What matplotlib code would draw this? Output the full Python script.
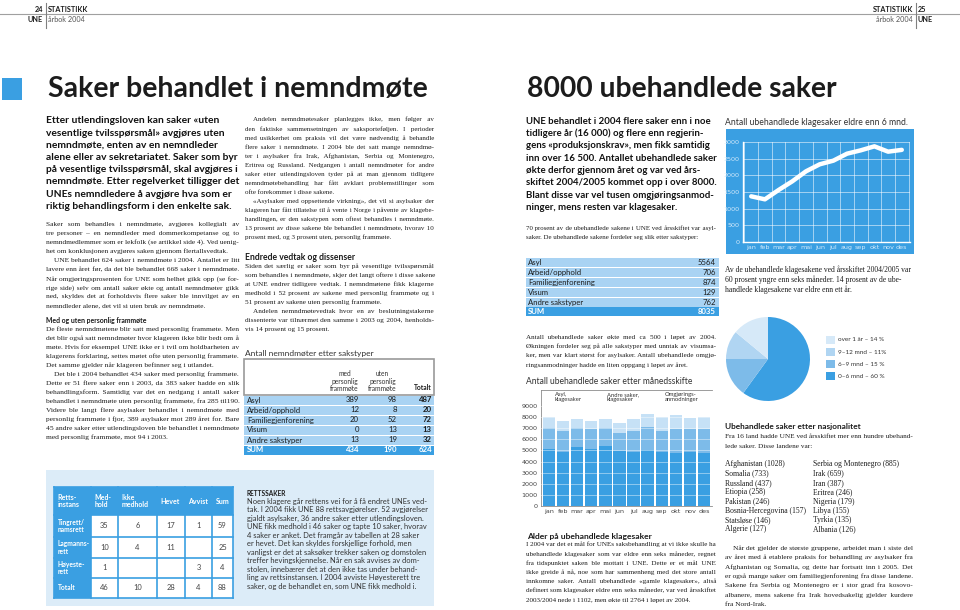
import numpy as np
import matplotlib
matplotlib.use("Agg")
import matplotlib.pyplot as plt
from matplotlib.font_manager import FontProperties
from matplotlib.patches import Rectangle
from matplotlib.lines import Line2D

# ---- data ----
maneder = ["jan", "feb", "mar", "apr", "mai", "jun", "jul", "aug", "sep", "okt", "nov", "des"]
asyl_klage = [5100, 4900, 5300, 5100, 5400, 4950, 4850, 5050, 4850, 4750, 4850, 4750]
andre_klage = [1950, 1900, 1750, 1800, 1650, 1650, 1950, 2100, 1950, 2200, 2050, 2150]
omgjoring = [950, 900, 750, 750, 750, 900, 1000, 1150, 1200, 1250, 1050, 1100]
bar_legend = ["Asyl,\nklagesaker", "Andre saker,\nklagesaker", "Omgjørings-\nanmodninger"]

eldre_6mnd = [1370, 1280, 1560, 1820, 2120, 2330, 2440, 2650, 2750, 2870, 2710, 2764]

alder_labels = ["0–6 mnd – 60 %", "6–9 mnd – 15 %", "9–12 mnd – 11%", "over 1 år – 14 %"]
alder_andel = [60, 15, 11, 14]

sakstyper = ["Asyl", "Arbeid/opphold", "Familiegjenforening", "Visum", "Andre sakstyper"]
med_frammote = [389, 12, 20, 0, 13]
uten_frammote = [98, 8, 52, 13, 19]
ubehandlet = [5564, 706, 874, 129, 762]

retts_rader = ["Tingrett/\nnamsrett", "Lagmanns-\nrett", "Høyeste-\nrett"]
retts_kolonner = ["Retts-\ninstans", "Med-\nhold", "Ikke\nmedhold", "Hevet", "Avvist", "Sum"]
medhold = [35, 10, 1]
ikke_medhold = [6, 4, 0]
hevet = [17, 11, 0]
avvist = [1, 0, 3]

land_venstre = ["Afghanistan (1028)", "Somalia (733)", "Russland (437)", "Etiopia (258)",
                "Pakistan (246)", "Bosnia-Hercegovina (157)", "Statsløse (146)", "Algerie (127)"]
land_hoyre = ["Serbia og Montenegro (885)", "Irak (659)", "Iran (387)", "Eritrea (246)",
              "Nigeria (179)", "Libya (155)", "Tyrkia (135)", "Albania (126)"]

SANS = ["Lato", "DejaVu Sans"]
SERIF = ["Liberation Serif", "DejaVu Serif"]
BLUE = "#3a9fe2"
MID = "#7dbbe9"
LIGHT = "#c6e1f6"
ROW = "#a9d3f3"
BOX = "#dcecf8"
INK = "#1c1c1c"
GREY = "#444444"
HAIR = "\u200a"

W, H = 960, 610
fig = plt.figure(figsize=(W / 100, H / 100), dpi=100)
R = fig.canvas.get_renderer()


def fx(x):
    return x / W


def fy(y):
    return 1 - y / H


def tw(s, size, family=SERIF, weight="normal"):
    fp = FontProperties(family=family, size=size, weight=weight)
    return R.get_text_width_height_descent(s, fp, ismath=False)[0]


def txt(x, y, s, size, family=SANS, weight="normal", color=INK, ha="left", va="center", **kw):
    return fig.text(fx(x), fy(y), s, fontsize=size, family=family, weight=weight,
                    color=color, ha=ha, va=va, **kw)


def fit(x, y, s, w, family=SANS, weight="bold", color=INK):
    size = 10 * w / tw(s, 10, family, weight)
    txt(x, y, s, size, family, weight, color, va="baseline")


def rect(x0, y0, x1, y1, color, ec="none", lw=0):
    fig.add_artist(Rectangle((fx(x0), fy(y1)), (x1 - x0) / W, (y1 - y0) / H,
                             transform=fig.transFigure, facecolor=color,
                             edgecolor=ec, linewidth=lw, zorder=-1))


def line(x0, y0, x1, y1, color="#9a9a9a", lw=0.8):
    fig.add_artist(Line2D([fx(x0), fx(x1)], [fy(y0), fy(y1)],
                          transform=fig.transFigure, color=color, lw=lw))


def stretch(ln, size, family, weight, target):
    # pad the word gaps with hair spaces so the line fills the column
    words = ln.split()
    gaps = len(words) - 1
    fill, n_fill = HAIR, 20
    hw = (tw("x" + fill * n_fill + "x", size, family, weight) - tw("xx", size, family, weight)) / n_fill
    if hw < 0.2:
        fill = " "
        hw = (tw("x" + fill * n_fill + "x", size, family, weight) - tw("xx", size, family, weight)) / n_fill
    n = max(0, int(round((target - tw(" ".join(words), size, family, weight)) / hw)))
    out = words[0]
    for i, wd in enumerate(words[1:]):
        k = n * (i + 1) // gaps - n * i // gaps
        out += " " + fill * k + wd
    return out


def block(paras, x, y, dy, w, size, family=SERIF, weight="normal", color=INK,
          justify=True, indent=8, first_indent=False):
    rows = []
    for k, p in enumerate(paras):
        lines = p.split("\n")
        for j, ln in enumerate(lines):
            ind = indent if j == 0 and (k > 0 or first_indent) else 0
            rows.append((ln, ind, justify and j < len(lines) - 1))
    nat = max(tw(ln, size, family, weight) + ind for ln, ind, _ in rows)
    if nat > w:
        size = size * w / nat
    base = 0.28 * size * 100 / 72
    for i, (ln, ind, jus) in enumerate(rows):
        yb = y + i * dy + base
        if jus and len(ln.split()) > 1:
            ln = stretch(ln, size, family, weight, w - ind)
        txt(x + ind, yb, ln, size, family, weight, color, va="baseline")
    return size


# ---- page header ----
line(0, 14, 960, 14, "#a0a0a0", 0.8)
line(45.5, 3, 45.5, 28, "#808080", 0.8)
line(915.5, 3, 915.5, 28, "#808080", 0.8)
txt(43, 9, "24", 5.2, weight="bold", ha="right")
txt(48, 9, "STATISTIKK", 5.2, weight="bold")
txt(43, 20, "UNE", 5.2, weight="bold", ha="right")
txt(48, 20, "årbok 2004", 5.2, color="#555555")
txt(913, 9, "STATISTIKK", 5.2, weight="bold", ha="right")
txt(918, 9, "25", 5.2, weight="bold")
txt(913, 20, "årbok 2004", 5.2, color="#555555", ha="right")
txt(918, 20, "UNE", 5.2, weight="bold")

rect(2, 78, 22, 100, BLUE)
fit(48, 97, "Saker behandlet i nemndmøte", 382)
fit(527, 97, "8000 ubehandlede saker", 311)

# ---- left column ----
block(["Etter utlendingsloven kan saker «uten\n"
       "vesentlige tvilsspørsmål» avgjøres uten\n"
       "nemndmøte, enten av en nemndleder\n"
       "alene eller av sekretariatet. Saker som byr\n"
       "på vesentlige tvilsspørsmål, skal avgjøres i\n"
       "nemndmøte. Etter regelverket tilligger det\n"
       "UNEs nemndledere å avgjøre hva som er\n"
       "riktig behandlingsform i den enkelte sak."],
      46, 120.5, 12.2, 193, 9, family=SANS, weight="bold", color="#111111", justify=False)

block(["Saker som behandles i nemndmøte, avgjøres kollegialt av\n"
       "tre personer – en nemndleder med dommerkompetanse og to\n"
       "nemndmedlemmer som er lekfolk (se artikkel side 4). Ved uenig-\n"
       "het om konklusjonen avgjøres saken gjennom flertallsvedtak.",
       "UNE behandlet 624 saker i nemndmøte i 2004. Antallet er litt\n"
       "lavere enn året før, da det ble behandlet 668 saker i nemndmøte.\n"
       "Når omgjøringsprosenten for UNE som helhet gikk opp (se for-\n"
       "rige side) selv om antall saker økte og antall nemndmøter gikk\n"
       "ned, skyldes det at forholdsvis flere saker ble innvilget av en\n"
       "nemndleder alene, det vil si uten bruk av nemndmøte."],
      46, 223.5, 9.1, 193, 6.2)

fit(46, 323.5, "Med og uten personlig frammøte", 100)
block(["De fleste nemndmøtene blir satt med personlig frammøte. Men\n"
       "det blir også satt nemndmøter hvor klageren ikke blir bedt om å\n"
       "møte. Hvis for eksempel UNE ikke er i tvil om holdbarheten av\n"
       "klagerens forklaring, settes møtet ofte uten personlig frammøte.\n"
       "Det samme gjelder når klageren befinner seg i utlandet.",
       "Det ble i 2004 behandlet 434 saker med personlig frammøte.\n"
       "Dette er 51 flere saker enn i 2003, da 383 saker hadde en slik\n"
       "behandlingsform. Samtidig var det en nedgang i antall saker\n"
       "behandlet i nemndmøte uten personlig frammøte, fra 285 til190.\n"
       "Videre ble langt flere asylsaker behandlet i nemndmøte med\n"
       "personlig frammøte i fjor, 389 asylsaker mot 289 året for. Bare\n"
       "45 andre saker etter utlendingsloven ble behandlet i nemndmøte\n"
       "med personlig frammøte, mot 94 i 2003."],
      46, 328.5, 9.05, 193, 6.2)

# ---- middle column ----
block(["Andelen nemndmøtesaker planlegges ikke, men følger av\n"
       "den faktiske sammensetningen av saksporteføljen. I perioder\n"
       "med usikkerhet om praksis vil det være nødvendig å behandle\n"
       "flere saker i nemndmøte. I 2004 ble det satt mange nemndmø-\n"
       "ter i asylsaker fra Irak, Afghanistan, Serbia og Montenegro,\n"
       "Eritrea og Russland. Nedgangen i antall nemndmøter for andre\n"
       "saker etter utlendingsloven tyder på at man gjennom tidligere\n"
       "nemndmøtebehandling har fått avklart problemstillinger som\n"
       "ofte forekommer i disse sakene.",
       "«Asylsaker med oppsettende virkning», det vil si asylsaker der\n"
       "klageren har fått tillatelse til å vente i Norge i påvente av klagebe-\n"
       "handlingen, er den sakstypen som oftest behandles i nemndmøte.\n"
       "13 prosent av disse sakene ble behandlet i nemndmøte, hvorav 10\n"
       "prosent med, og 3 prosent uten, personlig frammøte."],
      245, 119.5, 9.05, 189, 6.2, first_indent=True)

fit(245, 260, "Endrede vedtak og dissenser", 111)
block(["Siden det særlig er saker som byr på vesentlige tvilsspørsmål\n"
       "som behandles i nemndmøte, skjer det langt oftere i disse sakene\n"
       "at UNE endrer tidligere vedtak. I nemndmøtene fikk klagerne\n"
       "medhold i 52 prosent av sakene med personlig frammøte og i\n"
       "51 prosent av sakene uten personlig frammøte.",
       "Andelen nemndmøtevedtak hvor en av beslutningstakerne\n"
       "dissenterte var tilnærmet den samme i 2003 og 2004, henholds-\n"
       "vis 14 prosent og 15 prosent."],
      245, 266, 9.05, 189, 6.2)

# table: nemndmøter etter sakstyper
fit(245, 356, "Antall nemndmøter etter sakstyper", 128, weight="normal", color="#333333")
rect(244, 359, 434, 395, "white", ec="#9a9a9a", lw=1.2)
txt(359, 392, "med\npersonlig\nframmøte", 4.8, color="#333333", ha="right", va="bottom",
    multialignment="center", linespacing=1.05)
txt(397, 392, "uten\npersonlig\nframmøte", 4.8, color="#333333", ha="right", va="bottom",
    multialignment="center", linespacing=1.05)
txt(432, 391.5, "Totalt", 4.8, weight="bold", ha="right", va="bottom")
navn = sakstyper + ["SUM"]
med = med_frammote + [sum(med_frammote)]
uten = uten_frammote + [sum(uten_frammote)]
for i, (n, m, u) in enumerate(zip(navn, med, uten)):
    y0 = 395 + i * 10
    siste = i == len(navn) - 1
    rect(244, y0 + 0.5, 434, y0 + 9.5, BLUE if siste else ROW)
    c = "white" if siste else INK
    wt = "bold" if siste else "normal"
    txt(247, y0 + 5, n, 5.6, weight=wt, color=c)
    txt(359, y0 + 5, str(m), 5.6, weight=wt, color=c, ha="right")
    txt(397, y0 + 5, str(u), 5.6, weight=wt, color=c, ha="right")
    txt(432, y0 + 5, str(m + u), 5.6, weight="bold", color=c, ha="right")

# ---- rettssaker box ----
rect(46, 470, 434, 606, BOX)
kol = [54, 91, 118, 157, 185, 212, 233]
rad = [487, 515, 537, 558, 578, 598]
rect(kol[0], rad[0], kol[-1], rad[-1], "white")
rect(kol[0], rad[0], kol[-1], rad[1], BLUE)
rect(kol[0], rad[0], kol[1], rad[-1], BLUE)
for xv in kol:
    line(xv, rad[0], xv, rad[-1], BLUE, 1.2)
for yv in rad:
    line(kol[0], yv, kol[-1], yv, BLUE, 1.2)
for j, k in enumerate(retts_kolonner):
    txt(kol[j] + 3.5, (rad[0] + rad[1]) / 2, k, 5.0, weight="bold", color="white", linespacing=1.1)
radnavn = retts_rader + ["Totalt"]
celler = [medhold, ikke_medhold, hevet, avvist]
tabell = [[c[i] for c in celler] for i in range(len(retts_rader))]
tabell = [r + [sum(r)] for r in tabell]
tabell.append([sum(col) for col in zip(*tabell)])
for i, (n, r) in enumerate(zip(radnavn, tabell)):
    yc = (rad[i + 1] + rad[i + 2]) / 2
    txt(kol[0] + 3.5, yc, n, 4.8, weight="bold", color="white", linespacing=1.1)
    for j, v in enumerate(r):
        if v:
            txt((kol[j + 1] + kol[j + 2]) / 2, yc, str(v), 5.4, color="#444444", ha="center")

fit(247, 496, "RETTSSAKER", 40)
block(["Noen klagere går rettens vei for å få endret UNEs ved-\n"
       "tak. I 2004 fikk UNE 88 rettsavgjørelser. 52 avgjørelser\n"
       "gjaldt asylsaker, 36 andre saker etter utlendingsloven.\n"
       "UNE fikk medhold i 46 saker og tapte 10 saker, hvorav\n"
       "4 saker er anket. Det framgår av tabellen at 28 saker\n"
       "er hevet. Det kan skyldes forskjellige forhold, men\n"
       "vanligst er det at saksøker trekker saken og domstolen\n"
       "treffer hevingskjennelse. Når en sak avvises av dom-\n"
       "stolen, innebærer det at den ikke tas under behand-\n"
       "ling av rettsinstansen. I 2004 avviste Høyesterett tre\n"
       "saker, og de behandlet en, som UNE fikk medhold i."],
      247, 501.5, 8.5, 181, 6.0, family=SANS, color="#333333", justify=False)

# ---- right page, left column ----
block(["UNE behandlet i 2004 flere saker enn i noe\n"
       "tidligere år (16 000) og flere enn regjerin-\n"
       "gens «produksjonskrav», men fikk samtidig\n"
       "inn over 16 500. Antallet ubehandlede saker\n"
       "økte derfor gjennom året og var ved års-\n"
       "skiftet 2004/2005 kommet opp i over 8000.\n"
       "Blant disse var vel tusen omgjøringsanmod-\n"
       "ninger, mens resten var klagesaker."],
      526, 121, 12.3, 190, 9, family=SANS, weight="bold", color="#111111", justify=False)

block(["70 prosent av de ubehandlede sakene i UNE ved årsskiftet var asyl-\n"
       "saker. De ubehandlede sakene fordeler seg slik etter sakstyper:"],
      526, 228, 9.2, 190, 6.0)

for i, (n, v) in enumerate(zip(navn, ubehandlet + [sum(ubehandlet)])):
    y0 = 258 + i * 9.8
    siste = i == len(navn) - 1
    rect(526, y0 + 0.4, 719, y0 + 9.4, BLUE if siste else ROW)
    c = "white" if siste else INK
    wt = "bold" if siste else "normal"
    txt(528, y0 + 4.9, n, 5.6, weight=wt, color=c)
    txt(716, y0 + 4.9, str(v), 5.6, weight=wt, color=c, ha="right")

block(["Antall ubehandlede saker økte med ca 500 i løpet av 2004.\n"
       "Økningen fordeler seg på alle sakstyper med unntak av visumsa-\n"
       "ker, men var klart størst for asylsaker. Antall ubehandlede omgjø-\n"
       "ringsanmodninger hadde en liten oppgang i løpet av året."],
      526, 337, 9.2, 190, 6.2)

fit(526, 384, "Antall ubehandlede saker etter månedsskifte", 167, weight="normal", color="#333333")

ax = fig.add_axes([fx(541), fy(506), 171 / W, 116 / H])
xs = np.arange(len(maneder))
a = np.array(asyl_klage)
b = np.array(andre_klage)
c = np.array(omgjoring)
ax.bar(xs, a, 0.88, color=BLUE, lw=0)
ax.bar(xs, b, 0.88, bottom=a, color=MID, lw=0)
ax.bar(xs, c, 0.88, bottom=a + b, color=LIGHT, lw=0)
ax.set_xlim(-0.55, 11.55)
ax.set_ylim(0, 10450)
ax.set_yticks(np.arange(0, 9001, 1000))
ax.set_xticks(xs, maneder)
ax.tick_params(length=0, labelsize=4.6, colors=GREY, pad=2.5)
ax.grid(axis="y", color="white", lw=0.5, alpha=0.6)
ax.set_axisbelow(False)
for s in ["left", "bottom", "top"]:
    ax.spines[s].set_color("#8c8c8c")
    ax.spines[s].set_linewidth(0.6)
ax.spines["right"].set_visible(False)
for lx, lab, col in zip([542, 594, 652], bar_legend, [BLUE, MID, LIGHT]):
    rect(lx, 393, lx + 10, 400.5, col)
    txt(lx + 13, 397, lab, 4.2, color="#333333", linespacing=0.95)

fit(527, 538.5, "Alder på ubehandlede klagesaker", 125)
block(["I 2004 var det et mål for UNEs saksbehandling at vi ikke skulle ha\n"
       "ubehandlede klagesaker som var eldre enn seks måneder, regnet\n"
       "fra tidspunktet saken ble mottatt i UNE. Dette er et mål UNE\n"
       "ikke greide å nå, noe som har sammenheng med det store antall\n"
       "innkomne saker. Antall ubehandlede «gamle klagesaker», altså\n"
       "definert som klagesaker eldre enn seks måneder, var ved årsskiftet\n"
       "2003/2004 nede i 1102, men økte til 2764 i løpet av 2004."],
      526, 544.5, 9.2, 190, 6.2)

# ---- right page, right column ----
fit(725, 125, "Antall ubehandlede klagesaker eldre enn 6 mnd.", 183, weight="normal", color="#333333")
rect(726, 129, 914, 254, BLUE)
ax2 = fig.add_axes([fx(743), fy(242), 167 / W, 100 / H])
ax2.patch.set_alpha(0)
ax2.plot(xs, eldre_6mnd, color="white", lw=3.2, solid_capstyle="round",
         solid_joinstyle="round", clip_on=False, zorder=3)
ax2.set_xlim(-0.6, 11.6)
ax2.set_ylim(0, 3000)
ax2.set_yticks(np.arange(0, 3001, 500))
ax2.set_xticks(xs, maneder)
ax2.set_xticks(np.arange(-0.5, 12, 1), minor=True)
ax2.tick_params(which="both", length=0, labelsize=4.6, colors="#d4eafa", pad=2.5)
ax2.grid(axis="y", color="white", lw=0.5, alpha=0.75)
ax2.grid(axis="x", which="minor", color="white", lw=0.5, alpha=0.75)
for s in ["top", "right"]:
    ax2.spines[s].set_visible(False)
for s in ["left", "bottom"]:
    ax2.spines[s].set_color("white")
    ax2.spines[s].set_linewidth(1.0)

block(["Av de ubehandlede klagesakene ved årsskiftet 2004/2005 var\n"
       "60 prosent yngre enn seks måneder. 14 prosent av de ube-\n"
       "handlede klagesakene var eldre enn ett år."],
      725, 270, 9.8, 188, 6.2, justify=False)

ax3 = fig.add_axes([fx(726), fy(401), 84 / W, 84 / H])
pie_farger = [BLUE, MID, "#b0d5f2", "#d6e9f8"]
ax3.pie(alder_andel, colors=pie_farger, startangle=90, counterclock=False,
        wedgeprops=dict(linewidth=0))
ax3.set_xlim(-1, 1)
ax3.set_ylim(-1, 1)
for i, (lab, col) in enumerate(zip(alder_labels[::-1], pie_farger[::-1])):
    yc = 340 + i * 12
    rect(826, yc - 4, 835, yc + 4, col)
    txt(838, yc, lab, 4.6, color="#333333")

fit(725, 428.5, "Ubehandlede saker etter nasjonalitet", 137)
block(["Fra 16 land hadde UNE ved årsskiftet mer enn hundre ubehand-\n"
       "lede saker. Disse landene var:"],
      725, 436, 9.5, 188, 6.3)
liste_size = min(6.3, 6.3 * 82 / max(tw(s, 6.3) for s in land_venstre))
for i, (lv, lh) in enumerate(zip(land_venstre, land_hoyre)):
    yb = 464 + i * 9.3 + 2.3
    txt(725, yb, lv, liste_size, family=SERIF, va="baseline")
    txt(813, yb, lh, liste_size, family=SERIF, va="baseline")

block(["Når det gjelder de største gruppene, arbeidet man i siste del\n"
       "av året med å etablere praksis for behandling av asylsaker fra\n"
       "Afghanistan og Somalia, og dette har fortsatt inn i 2005. Det\n"
       "er også mange saker om familiegjenforening fra disse landene.\n"
       "Sakene fra Serbia og Montenegro er i stor grad fra kosovo-\n"
       "albanere, mens sakene fra Irak hovedsakelig gjelder kurdere\n"
       "fra Nord-Irak."],
      725, 548, 9.3, 188, 6.4, first_indent=True)

fig.savefig("out.png", dpi=100)
